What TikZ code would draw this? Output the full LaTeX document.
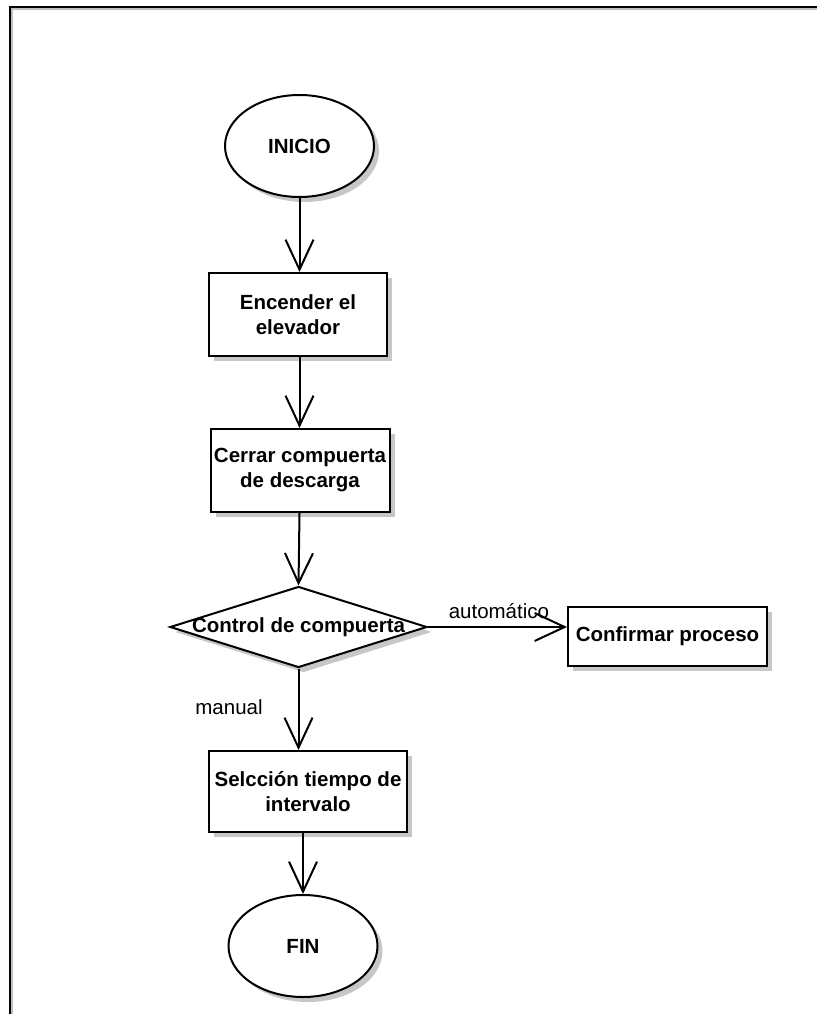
\documentclass[tikz,border=0pt]{standalone}
\usepackage{fontspec}
\setmainfont{Liberation Sans}
\usetikzlibrary{shapes.geometric,arrows.meta,shadows}
\begin{document}
\begin{tikzpicture}[x=1pt,y=1pt,
  base/.style={draw=black, line width=2pt, fill=white, inner sep=0pt,
    general shadow={fill=black!22, shadow xshift=5pt, shadow yshift=-5pt},
    font=\fontsize{20.5}{25}\selectfont\bfseries, align=center},
  term/.style={base, ellipse, minimum width=149pt, minimum height=102pt},
  proc/.style={base, rectangle},
  decis/.style={base, diamond, minimum width=257pt, minimum height=81pt},
  flow/.style={line width=2pt, -{Straight Barb[length=30pt,width=28pt,line width=2pt]}},
  lbl/.style={font=\fontsize{20.5}{24}\selectfont, inner sep=0pt}]
  \useasboundingbox (0,0) rectangle (817,-1014);
  % page frame
  \draw[black!25, line width=1.5pt] (12,-1014) -- (12,-9) -- (817,-9);
  \draw[line width=2.2pt] (10,-1014) -- (10,-7) -- (817,-7);

  % nodes
  \node[term] (inicio) at (299.5,-146) {INICIO};
  \node[proc, minimum width=178pt, minimum height=83pt] (enc) at (298,-314.5) {Encender el\\elevador};
  \node[proc, minimum width=179pt, minimum height=83pt] (cer) at (300,-470.5) {Cerrar compuerta\\de descarga};
  \node[decis] (ctl) at (298.5,-627) {\makebox[0pt]{Control de compuerta}};
  \node[proc, minimum width=199pt, minimum height=59pt] (conf) at (667.5,-636.5) {Confirmar proceso};
  \node[proc, minimum width=198pt, minimum height=81pt] (sel) at (308,-791.5) {Selcción tiempo de\\intervalo};
  \node[term] (fin) at (303,-946) {FIN};

  % connectors
  \draw[flow] (inicio.south) -- (inicio.south |- enc.north);
  \draw[flow] (enc.south -| inicio.south) -- (inicio.south |- cer.north);
  \draw[flow] (cer.south -| inicio.south) -- (ctl.north);
  \draw[flow] (ctl.east) -- (ctl.east -| conf.west)
    node[lbl, pos=0.51, above=7pt] (auto) {automático};
  \draw[flow] (ctl.south) -- (ctl.south |- sel.north);
  \node[lbl] (man) at (229,-707) {manual};
  \draw[flow] (sel.south -| fin.north) -- (fin.north);
\end{tikzpicture}
\end{document}
